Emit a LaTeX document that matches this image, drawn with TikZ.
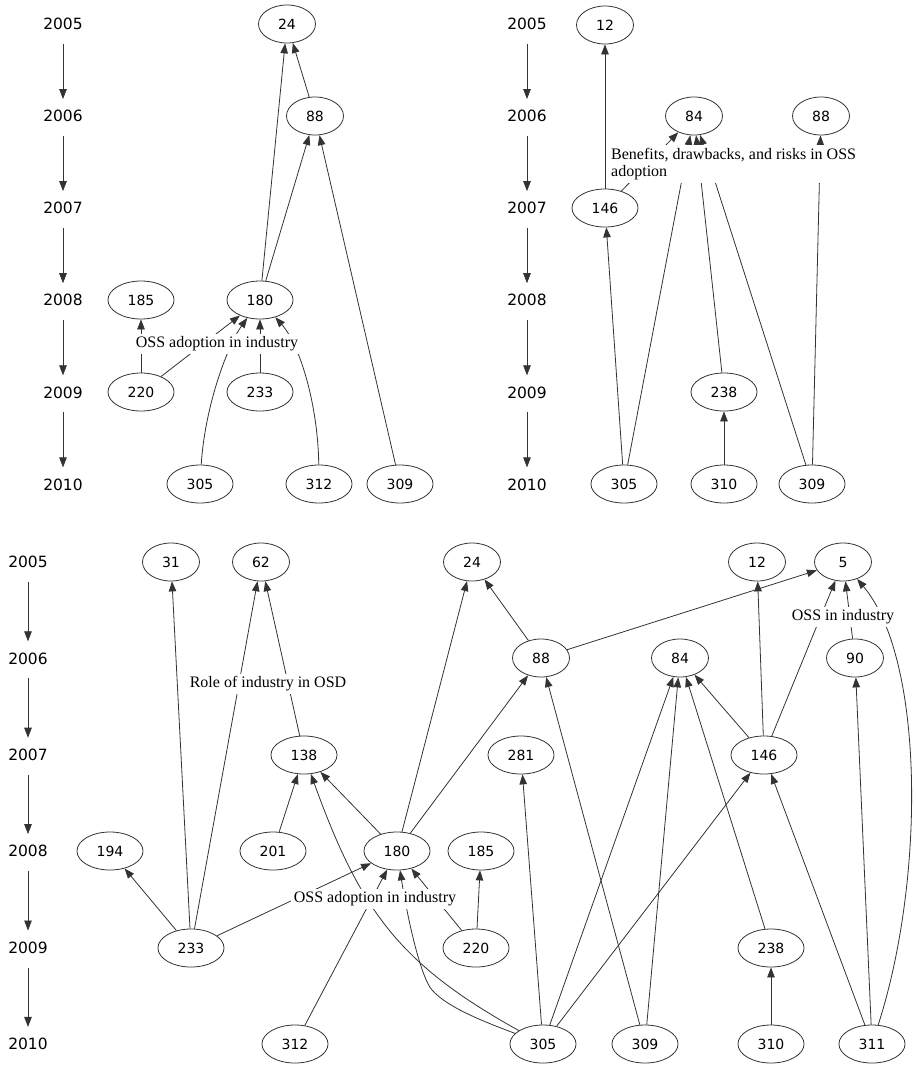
\documentclass[tikz,border=0pt]{standalone}
\usepackage{fontspec}
\usetikzlibrary{arrows.meta,shapes.geometric}
\newfontfamily\nodefont{DejaVu Sans}
\newfontfamily\topicfont{Liberation Serif}

\tikzset{
  paper/.style={ellipse, draw=black!80, line width=0.8pt, minimum width=57pt, minimum height=38pt,
    inner xsep=10pt, inner ysep=1pt, font=\nodefont\fontsize{14}{16}\selectfont},
  year/.style={inner sep=3pt, font=\nodefont\fontsize{15.5}{18}\selectfont},
  cite/.style={draw=black!80, line width=0.8pt, -{Triangle[length=10pt,width=7.5pt]}},
  yeararrow/.style={cite, shorten <=11pt, shorten >=8pt},
  topic/.style={fill=white, inner sep=3pt, font=\topicfont\fontsize{16}{17.5}\selectfont},
}

\begin{document}
\begin{tikzpicture}[x=1pt,y=-1pt]
	\useasboundingbox (0,0) rectangle (916,1066);

	% ===== top left: OSS adoption in industry
	% years
	\foreach \yr [count=\i from 0] in {2005,...,2010}
		\node[year] (ya\yr) at (63,24+92.1*\i) {\yr};
	\foreach \yr in {2005,...,2009}{
		\pgfmathtruncatemacro\ynext{\yr+1}
		\draw[yeararrow] (ya\yr) -- (ya\ynext);
	}

	% papers
	\node[paper] (a24) at (287,24) {24};
	\node[paper] (a88) at (315,116) {88};
	\node[paper] (a185) at (141,300) {185};
	\node[paper] (a180) at (260,300) {180};
	\node[paper] (a220) at (141,392) {220};
	\node[paper] (a233) at (260,392) {233};
	\node[paper] (a305) at (200,484) {305};
	\node[paper] (a312) at (319,484) {312};
	\node[paper] (a309) at (400,484) {309};

	% citations
	\foreach \from/\to in {180/24, 88/24, 180/88, 309/88, 220/185, 220/180, 233/180}
		\draw[cite] (a\from) -- (a\to);
	\draw[cite] (a305) .. controls (205,405) and (228,345) .. (a180);
	\draw[cite] (a312) .. controls (318,405) and (300,345) .. (a180);

	% topic
	\node[topic] (ta) at (217,344) {OSS adoption in industry};

	% ===== top right: benefits, drawbacks and risks
	% years
	\foreach \yr [count=\i from 0] in {2005,...,2010}
		\node[year] (yb\yr) at (527,24+92.1*\i) {\yr};
	\foreach \yr in {2005,...,2009}{
		\pgfmathtruncatemacro\ynext{\yr+1}
		\draw[yeararrow] (yb\yr) -- (yb\ynext);
	}

	% papers
	\node[paper] (b12) at (605,25) {12};
	\node[paper] (b84) at (694,116) {84};
	\node[paper] (b88) at (821,116) {88};
	\node[paper] (b146) at (605,208) {146};
	\node[paper] (b238) at (724,392) {238};
	\node[paper] (b305) at (624,484) {305};
	\node[paper] (b310) at (724,484) {310};
	\node[paper] (b309) at (812,484) {309};

	% citations
	\foreach \from/\to in {146/12, 305/146, 146/84, 305/84, 238/84, 309/84, 309/88, 310/238}
		\draw[cite] (b\from) -- (b\to);

	% topic
	\node[topic, align=left, anchor=north west] (tb) at (608,145)
		{Benefits, drawbacks, and risks in OSS\\adoption};

	% ===== bottom: all papers
	% years
	\foreach \yr [count=\i from 0] in {2005,...,2010}
		\node[year] (yc\yr) at (28,562+96.4*\i) {\yr};
	\foreach \yr in {2005,...,2009}{
		\pgfmathtruncatemacro\ynext{\yr+1}
		\draw[yeararrow] (yc\yr) -- (yc\ynext);
	}

	% papers
	\node[paper] (c31) at (171,562) {31};
	\node[paper] (c62) at (261,562) {62};
	\node[paper] (c24) at (472,562) {24};
	\node[paper] (c12) at (757,562) {12};
	\node[paper] (c5) at (843,562) {5};
	\node[paper] (c88) at (541,658) {88};
	\node[paper] (c84) at (680,658) {84};
	\node[paper] (c90) at (855,658) {90};
	\node[paper] (c138) at (304,755) {138};
	\node[paper] (c281) at (521,755) {281};
	\node[paper] (c146) at (764,755) {146};
	\node[paper] (c194) at (110,851) {194};
	\node[paper] (c201) at (273,851) {201};
	\node[paper] (c180) at (397,851) {180};
	\node[paper] (c185) at (481,851) {185};
	\node[paper] (c233) at (191,948) {233};
	\node[paper] (c220) at (476,948) {220};
	\node[paper] (c238) at (771,948) {238};
	\node[paper] (c312) at (295,1044) {312};
	\node[paper] (c305) at (543,1044) {305};
	\node[paper] (c309) at (645,1044) {309};
	\node[paper] (c310) at (771,1044) {310};
	\node[paper] (c311) at (872,1044) {311};

	% citations
	\foreach \from/\to in {233/31, 233/62, 138/62, 233/194, 233/180, 201/138, 180/138,
			180/24, 180/88, 88/24, 88/5, 312/180, 220/180, 220/185, 305/281, 309/88,
			305/84, 309/84, 238/84, 146/84, 305/146, 311/146, 146/12, 146/5, 90/5,
			311/90, 310/238}
		\draw[cite] (c\from) -- (c\to);
	\draw[cite] (c305) .. controls (401,965) and (361,913) .. (c138);
	\draw[cite] (c305) .. controls (485,1022) and (448,1008) .. (432,990)
		.. controls (420,976) and (407,915) .. (c180);
	\draw[cite] (c311) .. controls (925,880) and (925,660) .. (c5);

	% topics
	\node[topic] (tc1) at (268,684) {Role of industry in OSD};
	\node[topic] (tc2) at (375,899) {OSS adoption in industry};
	\node[topic] (tc3) at (843,617) {OSS in industry};
\end{tikzpicture}
\end{document}
